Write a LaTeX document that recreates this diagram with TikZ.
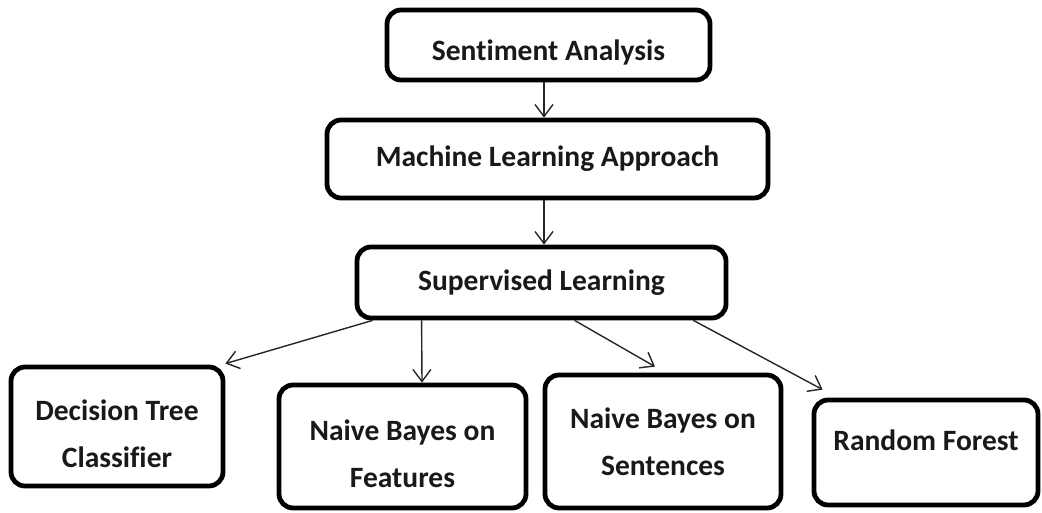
\documentclass[tikz,border=0pt]{standalone}
\usepackage{fontspec}
\setmainfont{Carlito}[Ligatures=NoCommon]
\usetikzlibrary{arrows.meta}

\tikzset{
  box/.style={draw=black, line width=4.8pt, rounded corners=14pt, fill=white,
    align=center, inner sep=0pt, font=\fontsize{29.5}{47}\selectfont\bfseries,
    text=black!90},
  arr/.style={draw=black!85, line width=1.4pt,
    -{Straight Barb[length=12pt,width=18pt,line width=1.4pt]}},
}

\begin{document}
\begin{tikzpicture}[x=1pt,y=-1pt]
  \useasboundingbox (0,0) rectangle (1042,512);

  % hierarchy of boxes
  \node[box, minimum width=323pt, minimum height=70pt, text height=36pt] (sa)  at (548.5,45)  {Sentiment Analysis};
  \node[box, minimum width=441pt, minimum height=78pt] (mla) at (547.5,159) {Machine Learning Approach};
  \node[box, minimum width=369pt, minimum height=71pt] (sl)  at (541.5,282.5) {Supervised Learning};

  % classifiers
  \node[box, minimum width=212pt, minimum height=119pt, text height=83pt] (dt)  at (117,426.5)  {Decision Tree\\Classifier};
  \node[box, minimum width=247pt, minimum height=123pt, text height=83pt] (nbf) at (402.5,446.5) {Naive Bayes on\\Features};
  \node[box, minimum width=236pt, minimum height=133pt] (nbs) at (663,441.5)  {Naive Bayes on\\Sentences};
  \node[box, minimum width=224pt, minimum height=105pt, text depth=24pt] (rf) at (926,452.5) {Random Forest};

  % connectors
  \draw[arr] ([xshift=-4.5pt]sa.south)  -- ([xshift=-3.5pt]mla.north);
  \draw[arr] ([xshift=-3.5pt]mla.south) -- ([xshift=2.5pt]sl.north);
  \draw[arr] ([xshift=18pt]sl.south west)  -- ([xshift=0pt,yshift=1pt]dt.north east);
  \draw[arr] ([xshift=67pt]sl.south west)  -- ([xshift=19.5pt]nbf.north);
  \draw[arr] ([xshift=220pt]sl.south west) -- ([xshift=-8pt,yshift=6pt]nbs.north);
  \draw[arr] ([xshift=-35pt]sl.south east) -- ([xshift=11pt,yshift=8pt]rf.north west);
\end{tikzpicture}
\end{document}
